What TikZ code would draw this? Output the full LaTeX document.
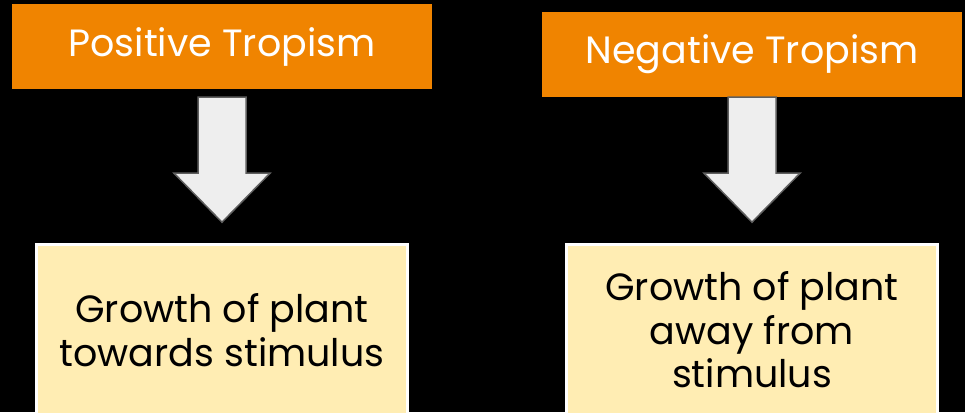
\documentclass[tikz,border=0pt]{standalone}
\usepackage{fontspec}
\setmainfont{Poppins}
\usetikzlibrary{calc}
\definecolor{hdrorange}{HTML}{F08400}
\definecolor{noteyellow}{HTML}{FFEDB3}
\definecolor{arrowfill}{HTML}{EEEEEE}
\definecolor{arrowedge}{HTML}{5F5F5F}
\tikzset{
  header/.style={fill=hdrorange, draw=none, minimum width=420pt, minimum height=85pt,
    inner sep=0pt, text=white, font=\fontsize{38}{44}\selectfont},
  note/.style={fill=noteyellow, draw=white, line width=3pt, minimum width=371pt,
    minimum height=171pt, inner sep=0pt, text=black, align=center,
    font=\fontsize{38}{43.5}\selectfont},
  blockarrow/.style={fill=arrowfill, draw=arrowedge, line width=1.5pt, line join=miter}
}
\begin{document}
\begin{tikzpicture}[x=1pt,y=-1pt]
\useasboundingbox (0,0) rectangle (965,412);
\fill[black] (0,0) rectangle (965,412);
\clip (0,0) rectangle (965,412);
\node[header] (pos) at (222,46.5) {Positive Tropism};
\node[header] (neg) at (752,54.5) {Negative Tropism};
\node[note] (posn) at (222,330) {Growth of plant\\towards stimulus};
\node[note] (negn) at (752,330) {Growth of plant\\away from\\stimulus};
\coordinate (a1) at ($(pos.south)+(0,8)$);
\coordinate (a2) at (neg.south);
\draw[blockarrow] (a1) ++(-24,0) -- ++(48,0) -- ++(0,76) -- ++(24,0) -- ++(-48,49) -- ++(-48,-49) -- ++(24,0) -- cycle;
\draw[blockarrow] (a2) ++(-24,0) -- ++(48,0) -- ++(0,76) -- ++(24,0) -- ++(-48,49) -- ++(-48,-49) -- ++(24,0) -- cycle;
\end{tikzpicture}
\end{document}
